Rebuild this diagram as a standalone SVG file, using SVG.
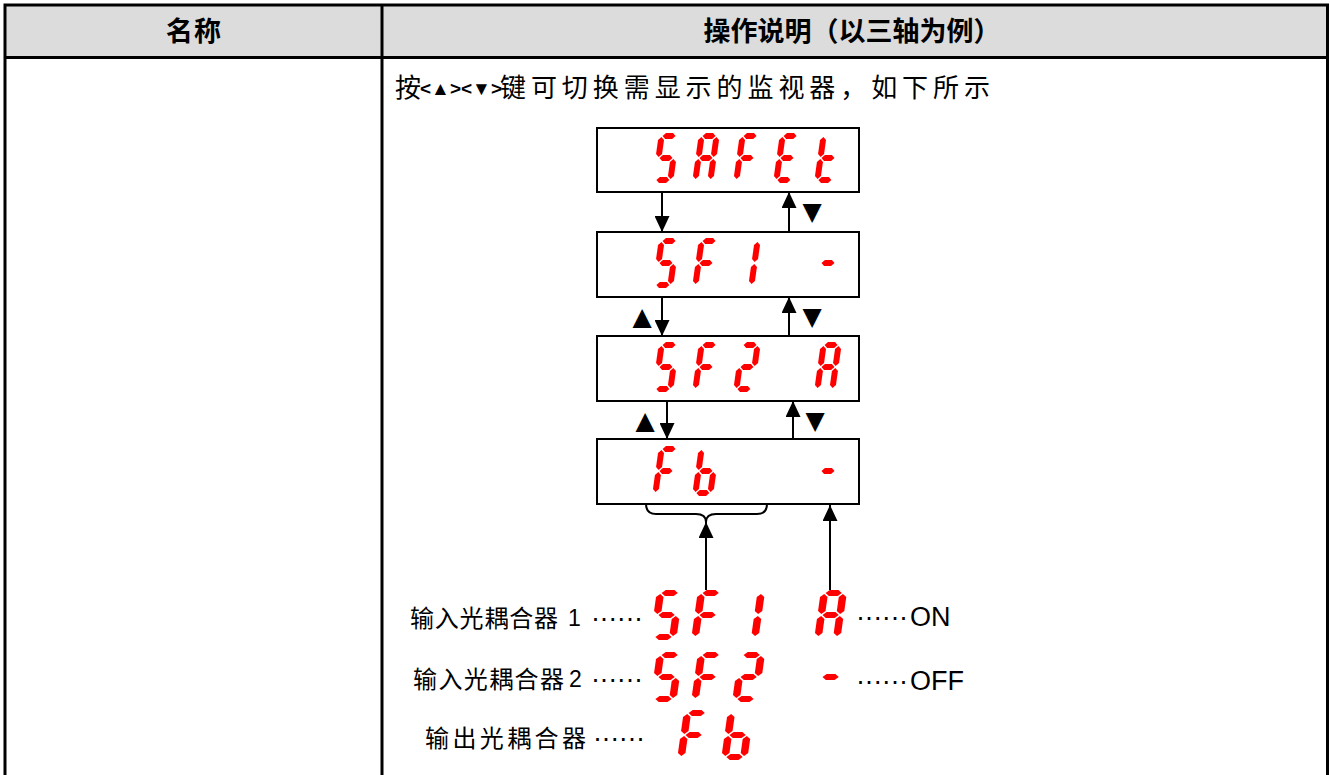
<svg xmlns="http://www.w3.org/2000/svg" xmlns:xlink="http://www.w3.org/1999/xlink" width="1330" height="775" viewBox="0 0 1330 775">
<style>
.grid{stroke:#000;stroke-width:3;fill:none}
.box{fill:#fff;stroke:#000;stroke-width:2}
.seg{fill:#ff0000}
.conn{stroke:#000;stroke-width:2;fill:none}
.cjk{font-family:"Noto Sans CJK SC","Liberation Sans",sans-serif;fill:#000}
.hdr{font-family:"Noto Sans CJK SC",sans-serif;font-size:27px;font-weight:bold;text-anchor:middle}
.lat{font-family:"Liberation Sans",Arial,sans-serif;fill:#000}
.tri{font-family:"DejaVu Sans",sans-serif;font-size:25px;text-anchor:middle;fill:#000}
.dots{font-family:"Liberation Sans",Arial,sans-serif;font-size:27px;fill:#000}
</style>
<defs>
<marker id="ah" markerUnits="userSpaceOnUse" markerWidth="16" markerHeight="15" refX="16" refY="7.5" orient="auto">
<path d="M0,0 L16,7.5 L0,15 Z" fill="#000"/>
</marker>
<polygon id="sa" class="seg" points="4,3 7,0 14,0 17,3 14,6 7,6"/>
<polygon id="sg" class="seg" points="4,25 7,22 14,22 17,25 14,28 7,28"/>
<polygon id="sd" class="seg" points="4,47 7,44 14,44 17,47 14,50 7,50"/>
<polygon id="sf" class="seg" points="3,4 6,7 6,21 3,24 0,21 0,7"/>
<polygon id="se" class="seg" points="3,26 6,29 6,43 3,46 0,43 0,29"/>
<polygon id="sb" class="seg" points="18,4 21,7 21,21 18,24 15,21 15,7"/>
<polygon id="sc" class="seg" points="18,26 21,29 21,43 18,46 15,43 15,29"/>
<g id="cS"><use href="#sa"/><use href="#sf"/><use href="#sg"/><use href="#sc"/><use href="#sd"/></g>
<g id="cA"><use href="#sa"/><use href="#sb"/><use href="#sc"/><use href="#se"/><use href="#sf"/><use href="#sg"/></g>
<g id="cF"><use href="#sa"/><use href="#sf"/><use href="#sg"/><use href="#se"/></g>
<g id="cE"><use href="#sa"/><use href="#sf"/><use href="#sg"/><use href="#se"/><use href="#sd"/></g>
<g id="ct"><use href="#sf"/><use href="#se"/><use href="#sg"/><use href="#sd"/></g>
<g id="c1"><use href="#sb"/><use href="#sc"/></g>
<g id="c2"><use href="#sa"/><use href="#sb"/><use href="#sg"/><use href="#se"/><use href="#sd"/></g>
<g id="cb"><use href="#sf"/><use href="#se"/><use href="#sg"/><use href="#sd"/><use href="#sc"/></g>
<g id="cm"><use href="#sg"/></g>
</defs>
<rect width="1330" height="775" fill="#fff"/>

<g id="table">
<rect x="5" y="5" width="1322.5" height="52.5" fill="#dcdcdc"/>
<path class="grid" d="M5,790 L5,5 L1327.5,5 L1327.5,790 M5,57.5 L1327.5,57.5 M382,5 L382,790"/>
<text class="cjk hdr" x="194" y="41" letter-spacing="1">名称</text>
<text class="cjk hdr" x="852" y="41" textLength="297" lengthAdjust="spacing">操作说明（以三轴为例）</text>
<text class="cjk" x="395" y="97" font-size="26">按</text>
<text class="lat" x="420" y="95" font-size="19" font-weight="bold">&lt;▲&gt;&lt;▼&gt;</text>
<text class="cjk" x="500" y="97" font-size="26" textLength="490" lengthAdjust="spacing">键可切换需显示的监视器，如下所示</text>
</g>

<g id="connectors">
<line class="conn" x1="662" y1="192" x2="662" y2="232" marker-end="url(#ah)"/>
<line class="conn" x1="789" y1="232" x2="789" y2="192" marker-end="url(#ah)"/>
<line class="conn" x1="662" y1="297" x2="662" y2="336" marker-end="url(#ah)"/>
<line class="conn" x1="789" y1="336" x2="789" y2="297" marker-end="url(#ah)"/>
<line class="conn" x1="667" y1="401" x2="667" y2="439" marker-end="url(#ah)"/>
<line class="conn" x1="793" y1="439" x2="793" y2="401" marker-end="url(#ah)"/>
<path class="conn" d="M646,504 Q646,514 656,514 L696,514 Q706,514 706,522 Q706,514 716,514 L757,514 Q767,514 767,504"/>
<line class="conn" x1="706" y1="590" x2="706" y2="522" marker-end="url(#ah)"/>
<line class="conn" x1="830" y1="590" x2="830" y2="505" marker-end="url(#ah)"/>
<text class="tri" x="812" y="220">▼</text>
<text class="tri" x="642" y="325">▲</text>
<text class="tri" x="812" y="325">▼</text>
<text class="tri" x="645" y="429">▲</text>
<text class="tri" x="815" y="429">▼</text>
</g>

<g id="box-safet">
<rect class="box" x="597" y="128" width="262" height="64"/>
<use href="#cS" transform="translate(659,133) skewX(-8)"/>
<use href="#cA" transform="translate(699,133) skewX(-8)"/>
<use href="#cF" transform="translate(740,133) skewX(-8)"/>
<use href="#cE" transform="translate(780,133) skewX(-8)"/>
<use href="#ct" transform="translate(821,133) skewX(-8)"/>
</g>

<g id="box-sf1">
<rect class="box" x="597" y="232" width="262" height="65"/>
<use href="#cS" transform="translate(659,238) skewX(-8)"/>
<use href="#cF" transform="translate(699,238) skewX(-8)"/>
<use href="#c1" transform="translate(740,238) skewX(-8)"/>
<use href="#cm" transform="translate(821,238) skewX(-8)"/>
</g>

<g id="box-sf2">
<rect class="box" x="597" y="336" width="262" height="65"/>
<use href="#cS" transform="translate(659,342) skewX(-8)"/>
<use href="#cF" transform="translate(699,342) skewX(-8)"/>
<use href="#c2" transform="translate(740,342) skewX(-8)"/>
<use href="#cA" transform="translate(821,342) skewX(-8)"/>
</g>

<g id="box-fb">
<rect class="box" x="597" y="439" width="262" height="65"/>
<use href="#cF" transform="translate(659,446) skewX(-8)"/>
<use href="#cb" transform="translate(699,446) skewX(-8)"/>
<use href="#cm" transform="translate(821,446) skewX(-8)"/>
</g>

<g id="legend-in1">
<text class="cjk" x="410" y="627" font-size="24" textLength="148" lengthAdjust="spacing">输入光耦合器</text>
<text class="lat" x="568" y="626" font-size="23">1</text>
<text class="dots" x="591" y="627" textLength="52" lengthAdjust="spacing">······</text>
<use href="#cS" transform="translate(657,590) skewX(-8) scale(1.25,1)"/>
<use href="#cF" transform="translate(698,590) skewX(-8) scale(1.25,1)"/>
<use href="#c1" transform="translate(739,590) skewX(-8) scale(1.25,1)"/>
<use href="#cA" transform="translate(821,590) skewX(-8) scale(1.25,1)"/>
<text class="dots" x="856" y="626" textLength="52" lengthAdjust="spacing">······</text>
<text class="lat" x="910" y="626" font-size="27">ON</text>
</g>

<g id="legend-in2">
<text class="cjk" x="413" y="688" font-size="24" textLength="151" lengthAdjust="spacing">输入光耦合器</text>
<text class="lat" x="569" y="687" font-size="23">2</text>
<text class="dots" x="591" y="688" textLength="52" lengthAdjust="spacing">······</text>
<use href="#cS" transform="translate(657,652) skewX(-8) scale(1.25,1)"/>
<use href="#cF" transform="translate(698,652) skewX(-8) scale(1.25,1)"/>
<use href="#c2" transform="translate(739,652) skewX(-8) scale(1.25,1)"/>
<use href="#cm" transform="translate(821,652) skewX(-8) scale(1.25,1)"/>
<text class="dots" x="856" y="690" textLength="52" lengthAdjust="spacing">······</text>
<text class="lat" x="910" y="690" font-size="27">OFF</text>
</g>

<g id="legend-out">
<text class="cjk" x="425" y="747" font-size="24" textLength="161" lengthAdjust="spacing">输出光耦合器</text>
<text class="dots" x="593" y="747" textLength="52" lengthAdjust="spacing">······</text>
<use href="#cF" transform="translate(684,710) skewX(-8) scale(1.25,1)"/>
<use href="#cb" transform="translate(728,710) skewX(-8) scale(1.25,1)"/>
</g>
</svg>
